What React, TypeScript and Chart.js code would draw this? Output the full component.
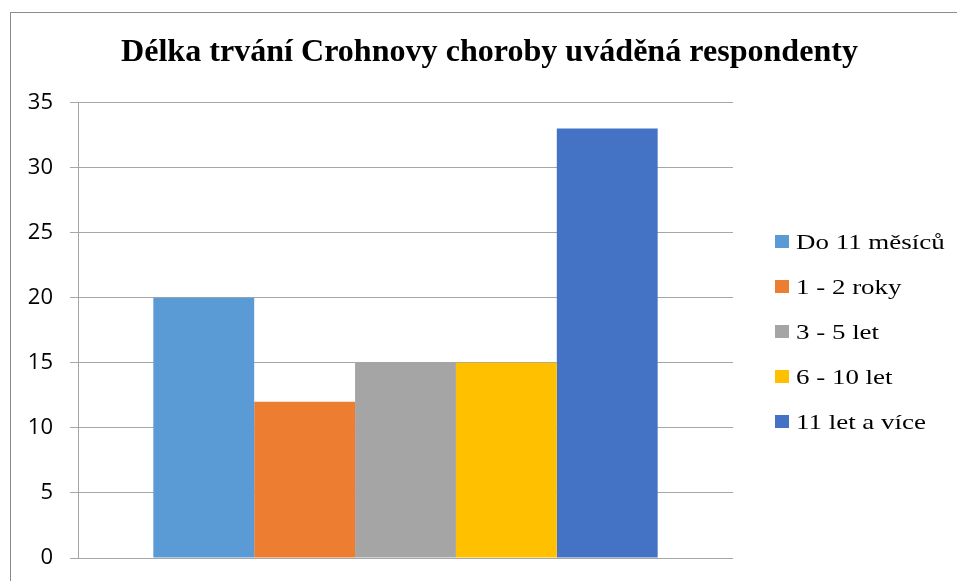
import { useEffect, useRef } from "react";
import { Chart, registerables } from "chart.js";

Chart.register(...registerables);

const title = "Délka trvání Crohnovy choroby uváděná respondenty";
const categories = [""];
const seriesLabels = ["Do 11 měsíců", "1 - 2 roky", "3 - 5 let", "6 - 10 let", "11 let a více"];
const seriesValues = [20, 12, 15, 15, 33];
const seriesColors = ["#5B9BD5", "#ED7D31", "#A5A5A5", "#FFC000", "#4472C4"];
const yTicks = [0, 5, 10, 15, 20, 25, 30, 35];

// Thin frame around the chart object (its right and bottom edges run past the canvas).
const framePlugin = {
  id: "frame",
  beforeDraw(chart: any) {
    const { ctx } = chart;
    ctx.save();
    ctx.fillStyle = "#ffffff";
    ctx.fillRect(0, 0, chart.width, chart.height);
    ctx.strokeStyle = "#8c8c8c";
    ctx.lineWidth = 1;
    ctx.strokeRect(10.5, 12.5, chart.width + 20, chart.height + 20);
    ctx.restore();
  },
};

// Legend drawn in the space reserved on the right, built from the datasets.
const sideLegendPlugin = {
  id: "sideLegend",
  afterDraw(chart: any) {
    const { ctx } = chart;
    const area = chart.chartArea;
    const boxX = area.right + 42;
    const boxW = 14;
    const boxH = 13;
    const step = 45;
    const stretch = 1.225;
    const n = chart.data.datasets.length;
    const centerY = 330.5;
    const firstY = centerY - ((n - 1) * step) / 2;
    ctx.save();
    ctx.font = "22px 'Liberation Serif', 'Times New Roman', serif";
    ctx.textBaseline = "alphabetic";
    ctx.textAlign = "left";
    chart.data.datasets.forEach((ds: any, i: number) => {
      const cy = firstY + i * step;
      ctx.fillStyle = ds.backgroundColor;
      ctx.fillRect(boxX, Math.round(cy - 5.5), boxW, boxH);
      ctx.fillStyle = "#000000";
      ctx.save();
      ctx.translate(boxX + boxW + 7, cy + 8.5);
      ctx.scale(stretch, 1);
      ctx.fillText(ds.label, 0, 0);
      ctx.restore();
    });
    ctx.restore();
  },
};

export default function App() {
  const canvasRef = useRef<HTMLCanvasElement | null>(null);

  useEffect(() => {
    if (!canvasRef.current) return;
    const chart = new Chart(canvasRef.current, {
      type: "bar",
      data: {
        labels: categories,
        datasets: seriesLabels.map((label, i) => ({
          label,
          data: [seriesValues[i]],
          backgroundColor: seriesColors[i],
          borderWidth: 0,
          categoryPercentage: 0.77,
          barPercentage: 1,
        })),
      },
      options: {
        animation: false,
        responsive: false,
        layout: { padding: { left: 22, right: 0, top: 0, bottom: 23 } },
        plugins: {
          legend: { display: false },
          tooltip: { enabled: false },
          title: {
            display: true,
            text: title,
            color: "#000000",
            font: { family: "'Liberation Serif', 'Times New Roman', serif", size: 32.1, weight: "bold", lineHeight: 1.2 },
            padding: { top: 33, bottom: 31 },
          },
        },
        scales: {
          x: { display: false },
          y: {
            min: 0,
            max: 35,
            afterBuildTicks: (scale: any) => {
              scale.ticks = yTicks.map((v) => ({ value: v }));
            },
            afterFit: (scale: any) => {
              scale.width = 56;
              scale.paddingTop = 0;
              scale.paddingBottom = 0;
            },
            ticks: {
              color: "#000000",
              padding: 17,
              font: { family: "'Open Sans', 'Liberation Sans', sans-serif", size: 22 },
            },
            grid: { color: "#a6a6a6", lineWidth: 1, tickLength: 8, drawTicks: true },
            border: { display: true, color: "#a6a6a6", width: 1 },
          },
          legendSpace: {
            type: "linear",
            position: "right",
            display: true,
            ticks: { display: false },
            grid: { display: false },
            border: { display: false },
            afterFit: (scale: any) => {
              scale.width = 224;
            },
          },
        },
      },
      plugins: [framePlugin, sideLegendPlugin],
    } as any);
    return () => chart.destroy();
  }, []);

  return (
    <div style={{ position: "absolute", left: 0, top: 0, width: 957, height: 581 }}>
      <canvas ref={canvasRef} width={957} height={581} style={{ width: 957, height: 581, display: "block" }} />
    </div>
  );
}
